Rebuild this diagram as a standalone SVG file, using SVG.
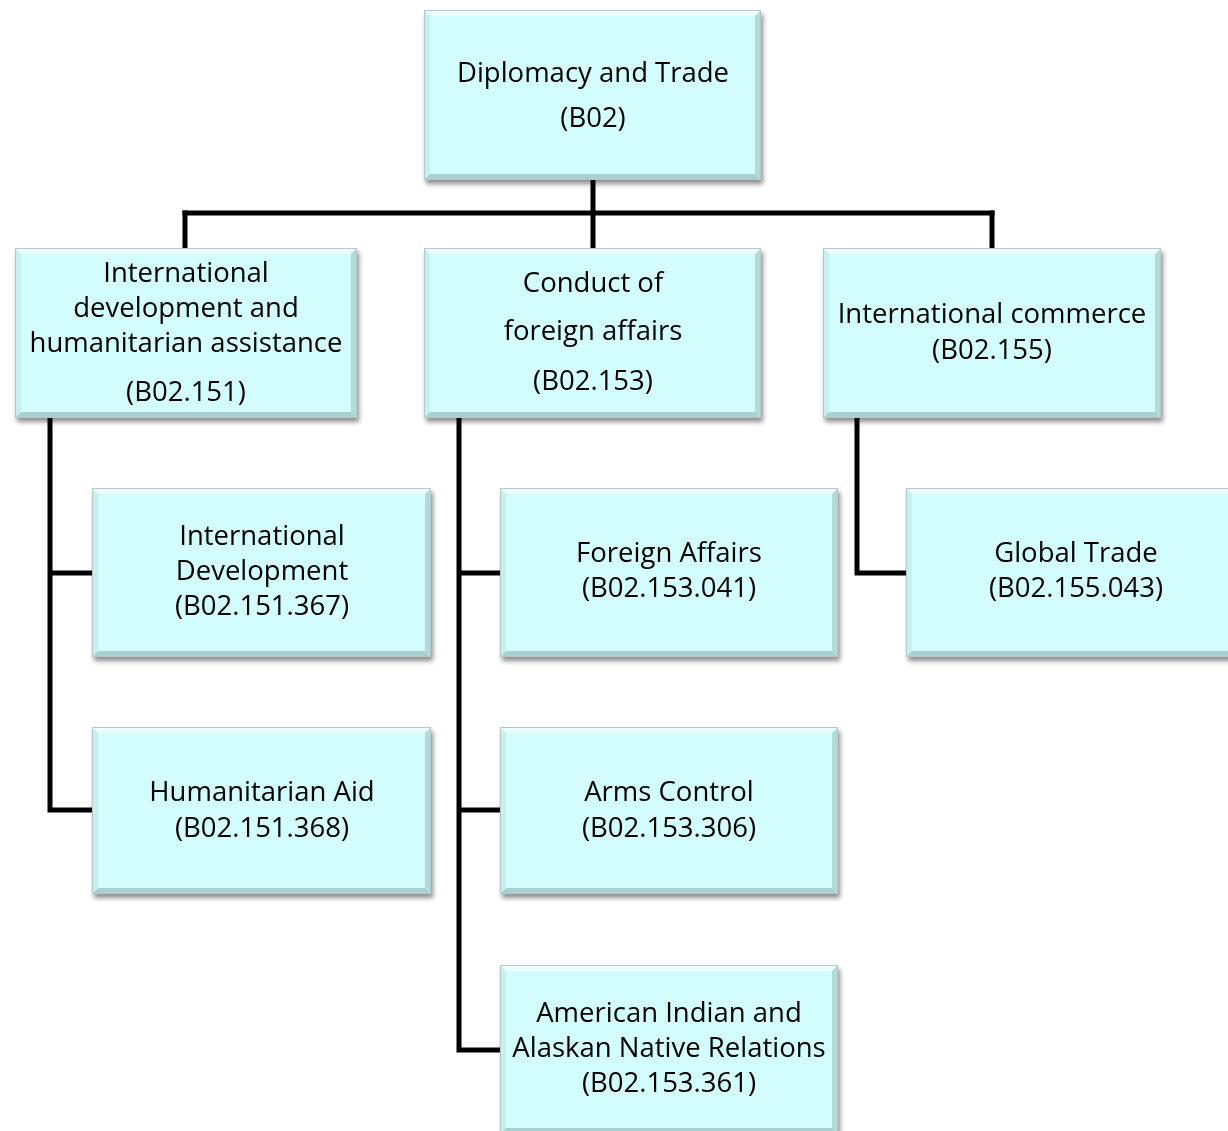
<svg xmlns="http://www.w3.org/2000/svg" xmlns:xlink="http://www.w3.org/1999/xlink" width="1228" height="1131" viewBox="0 0 1228 1131">
<style>
text{font-family:"Open Sans","Liberation Sans",sans-serif;font-size:27.5px;fill:#000;text-anchor:middle}
.conn{fill:none;stroke:#000;stroke-width:5;stroke-linejoin:miter;stroke-linecap:square}
</style>
<defs>
<filter id="sh" x="-10%" y="-10%" width="125%" height="130%">
<feGaussianBlur in="SourceAlpha" stdDeviation="2.5"/>
<feOffset dx="2" dy="4" result="b"/>
<feComponentTransfer><feFuncA type="linear" slope="0.45"/></feComponentTransfer>
<feMerge><feMergeNode/><feMergeNode in="SourceGraphic"/></feMerge>
</filter>
<symbol id="box" viewBox="0 0 338 169" preserveAspectRatio="none">
<rect x="0" y="0" width="338" height="169" fill="#d3fcfc"/>
<polygon points="0,0 338,0 332,6 6,6" fill="#ecffff"/>
<polygon points="0,0 6,6 6,163 0,169" fill="#c6f0f0"/>
<polygon points="338,0 338,169 332,163 332,6" fill="#b3dada"/>
<polygon points="0,169 6,163 332,163 338,169" fill="#a9d0d0"/>
<rect x="0.5" y="0.5" width="337" height="168" fill="none" stroke="#b8c8c8" stroke-width="1"/>
</symbol>
</defs>
<g id="connectors">
<path class="conn" d="M593,180 V246"/>
<path class="conn" d="M185,213 H992"/>
<path class="conn" d="M185,213 V246 M992,213 V246"/>
<path class="conn" d="M50,419 V810 H92 M50,573 H92"/>
<path class="conn" d="M459,419 V1050 H500 M459,573 H500 M459,810 H500"/>
<path class="conn" d="M857,419 V573 H906"/>
</g>
<g id="n-b02" filter="url(#sh)">
<use xlink:href="#box" x="424" y="10" width="337" height="170"/>
<text x="593" y="82">Diplomacy and Trade</text>
<text x="593" y="127">(B02)</text>
</g>
<g id="n-b02-151" filter="url(#sh)">
<use xlink:href="#box" x="15" y="248" width="342" height="170"/>
<text x="186" y="282">International</text>
<text x="186" y="317">development and</text>
<text x="186" y="352">humanitarian assistance</text>
<text x="186" y="401">(B02.151)</text>
</g>
<g id="n-b02-153" filter="url(#sh)">
<use xlink:href="#box" x="424" y="248" width="337" height="170"/>
<text x="593" y="292">Conduct of</text>
<text x="593" y="340">foreign affairs</text>
<text x="593" y="390">(B02.153)</text>
</g>
<g id="n-b02-155" filter="url(#sh)">
<use xlink:href="#box" x="823" y="248" width="338" height="170"/>
<text x="992" y="323">International commerce</text>
<text x="992" y="359">(B02.155)</text>
</g>
<g id="n-b02-151-367" filter="url(#sh)">
<use xlink:href="#box" x="92" y="488" width="339" height="169"/>
<text x="262" y="545">International</text>
<text x="262" y="580">Development</text>
<text x="262" y="615">(B02.151.367)</text>
</g>
<g id="n-b02-151-368" filter="url(#sh)">
<use xlink:href="#box" x="92" y="727" width="339" height="167"/>
<text x="262" y="801">Humanitarian Aid</text>
<text x="262" y="837">(B02.151.368)</text>
</g>
<g id="n-b02-153-041" filter="url(#sh)">
<use xlink:href="#box" x="500" y="488" width="338" height="169"/>
<text x="669" y="562">Foreign Affairs</text>
<text x="669" y="597">(B02.153.041)</text>
</g>
<g id="n-b02-153-306" filter="url(#sh)">
<use xlink:href="#box" x="500" y="727" width="338" height="167"/>
<text x="669" y="801">Arms Control</text>
<text x="669" y="837">(B02.153.306)</text>
</g>
<g id="n-b02-153-361" filter="url(#sh)">
<use xlink:href="#box" x="500" y="965" width="338" height="169"/>
<text x="669" y="1022">American Indian and</text>
<text x="669" y="1057">Alaskan Native Relations</text>
<text x="669" y="1092">(B02.153.361)</text>
</g>
<g id="n-b02-155-043" filter="url(#sh)">
<use xlink:href="#box" x="906" y="488" width="338" height="169"/>
<text x="1076" y="562">Global Trade</text>
<text x="1076" y="597">(B02.155.043)</text>
</g>
</svg>
